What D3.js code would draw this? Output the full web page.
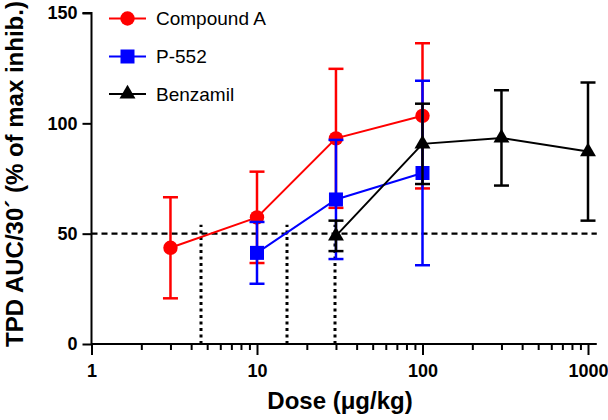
<!DOCTYPE html>
<html><head><meta charset="utf-8">
<script src="https://cdn.jsdelivr.net/npm/d3@7"></script>
<style>body{margin:0;background:#fff}svg{display:block}text{font-family:"Liberation Sans",Arial,sans-serif}</style>
</head><body>
<script>
// Data
const seriesNames = ["Compound A", "P-552", "Benzamil"];
const seriesColors = ["#ff0000", "#0000ff", "#000000"];
const seriesShapes = ["circle", "square", "triangle"];
const compoundADose = [3, 10, 30, 100];
const compoundAMean = [43.6, 57.4, 93.2, 103.4];
const compoundAErr  = [22.9, 20.7, 31.5, 32.9];
const p552Dose = [10, 30, 100];
const p552Mean = [41.3, 65.5, 77.5];
const p552Err  = [14.0, 27.0, 41.8];
const benzDose = [30, 100, 300, 1000];
const benzMean = [49.0, 90.7, 93.4, 87.2];
const benzErr  = [6.9, 18.2, 21.6, 31.3];
const xTickValues = [1, 10, 100, 1000];
const yTickValues = [0, 50, 100, 150];
const refLevel = [50];
const ed50Doses = [4.6, 15.1, 29.8];
const ed50Top = 54;

const W = 608, H = 420;
const svg = d3.select("body").append("svg").attr("width", W).attr("height", H);
const x = d3.scaleLog().domain([1, 1000]).range([91.5, 588]);
const y = d3.scaleLinear().domain([0, 150]).range([344, 13]);
const xEnd = 1130;

const series = [
  {dose: compoundADose, mean: compoundAMean, err: compoundAErr},
  {dose: p552Dose, mean: p552Mean, err: p552Err},
  {dose: benzDose, mean: benzMean, err: benzErr}
].map((s, i) => ({...s, name: seriesNames[i], color: seriesColors[i], shape: seriesShapes[i]}));

// Reference lines
svg.append("line").attr("x1", x(1)).attr("x2", x(xEnd)).attr("y1", y(refLevel[0])).attr("y2", y(refLevel[0]))
  .attr("stroke", "#000").attr("stroke-width", 2.2).attr("stroke-dasharray", "6,4");
svg.selectAll(".ed50").data(ed50Doses).enter().append("line")
  .attr("x1", d => Math.round(x(d))).attr("x2", d => Math.round(x(d))).attr("y1", y(0)).attr("y2", y(ed50Top))
  .attr("stroke", "#000").attr("stroke-width", 3).attr("stroke-dasharray", "3,3.5");

// Axes
const yAxis = d3.axisLeft(y).tickValues(yTickValues).tickSize(9).tickPadding(5).tickFormat(d3.format("d"));
const gy = svg.append("g").attr("transform", `translate(${x(1)},0)`).call(yAxis);
gy.select(".domain").attr("stroke-width", 2).attr("d", `M-9,${y(150)}H0V${y(0)}`);
gy.selectAll(".tick line").attr("stroke-width", 2);
gy.selectAll(".tick text").attr("font-size", 18).attr("font-weight", "bold").attr("fill", "#000")
  .attr("font-family", '"Liberation Sans",Arial,sans-serif');

const minor = [];
for (let dec = 1; dec < 1000; dec *= 10) for (let k = 2; k <= 9; k++) minor.push(dec * k);
const gxm = svg.append("g").attr("transform", `translate(0,${y(0)})`)
  .call(d3.axisBottom(x).tickValues(minor).tickSize(6).tickFormat(""));
gxm.select(".domain").remove();
gxm.selectAll(".tick line").attr("stroke-width", 2);

const xAxis = d3.axisBottom(x).tickValues(xTickValues).tickSize(11).tickPadding(9).tickFormat(d3.format("d"));
const gx = svg.append("g").attr("transform", `translate(0,${y(0)})`).call(xAxis);
gx.select(".domain").attr("stroke-width", 2).attr("d", `M${x(1)},0H${x(xEnd)}`);
gx.selectAll(".tick line").attr("stroke-width", 2);
gx.selectAll(".tick text").attr("font-size", 18).attr("font-weight", "bold").attr("fill", "#000")
  .attr("font-family", '"Liberation Sans",Arial,sans-serif');

// Titles
svg.append("text").attr("x", 340).attr("y", 409).attr("text-anchor", "middle")
  .attr("font-size", 24).attr("font-weight", "bold").text("Dose (μg/kg)");
svg.append("text").attr("transform", "translate(23,174) rotate(-90)").attr("text-anchor", "middle")
  .attr("font-size", 24).attr("font-weight", "bold").text("TPD AUC/30´ (% of max inhib.)");

// Marker symbol
function symbolFor(shape) {
  if (shape === "circle") return d3.symbol().type(d3.symbolCircle).size(Math.PI * 7.2 * 7.2)();
  if (shape === "square") return d3.symbol().type(d3.symbolSquare).size(14 * 14)();
  return d3.symbol().type(d3.symbolTriangle).size(110)();
}

const line = d3.line().x(d => x(d.dose)).y(d => y(d.mean));
series.forEach(s => {
  const pts = s.dose.map((d, i) => ({dose: d, mean: s.mean[i], err: s.err[i]}));
  const g = svg.append("g");
  g.append("path").datum(pts).attr("d", line).attr("fill", "none").attr("stroke", s.color).attr("stroke-width", 2);
  const eb = g.selectAll(".eb").data(pts).enter().append("g").attr("stroke", s.color).attr("stroke-width", 2.5);
  eb.append("line").attr("x1", d => x(d.dose)).attr("x2", d => x(d.dose))
    .attr("y1", d => y(d.mean + d.err)).attr("y2", d => y(d.mean - d.err));
  eb.append("line").attr("x1", d => x(d.dose) - 7.5).attr("x2", d => x(d.dose) + 7.5)
    .attr("y1", d => y(d.mean + d.err)).attr("y2", d => y(d.mean + d.err));
  eb.append("line").attr("x1", d => x(d.dose) - 7.5).attr("x2", d => x(d.dose) + 7.5)
    .attr("y1", d => y(d.mean - d.err)).attr("y2", d => y(d.mean - d.err));
  g.selectAll(".pt").data(pts).enter().append("path").attr("d", symbolFor(s.shape))
    .attr("transform", d => `translate(${x(d.dose)},${y(d.mean)})`).attr("fill", s.color);
});

// Legend
const legendY = [18.5, 56.5, 94];
series.forEach((s, i) => {
  const g = svg.append("g").attr("transform", `translate(0,${legendY[i]})`);
  g.append("line").attr("x1", 109).attr("x2", 146).attr("stroke", s.color).attr("stroke-width", 2);
  g.append("path").attr("d", symbolFor(s.shape)).attr("transform", "translate(127.5,0)").attr("fill", s.color);
  g.append("text").attr("x", 156).attr("y", 0).attr("dy", "0.36em").attr("font-size", 19).attr("fill", "#000").text(s.name);
});
</script>
</body></html>
